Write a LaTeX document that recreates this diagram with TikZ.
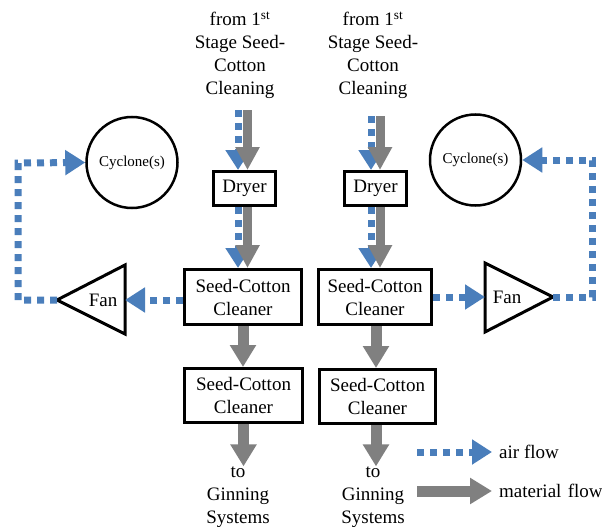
\documentclass[tikz,border=0pt]{standalone}
\usepackage{fontspec}
\setmainfont{Liberation Serif}
\usetikzlibrary{arrows.meta}
\definecolor{airblue}{RGB}{74,126,187}
\definecolor{matgray}{RGB}{128,128,128}
\begin{document}
\begin{tikzpicture}[x=1pt,y=-1pt,
 box/.style={draw=black, line width=3pt, fill=white, inner sep=0pt, align=center, font=\fontsize{19}{23}\selectfont},
 lbl/.style={align=center, inner sep=0pt, font=\fontsize{19}{23}\selectfont},
 cyc/.style={draw=black, circle, line width=2.5pt, inner sep=0pt, minimum size=91pt, font=\fontsize{15}{18}\selectfont},
 fanline/.style={draw=black, line width=3pt, line join=miter},
 air/.style={draw=airblue, line width=7pt, dash pattern=on 7pt off 6pt, -{Triangle[length=20pt,width=24pt]}},
 mat/.style={draw=matgray, line width=11pt, -{Triangle[length=22pt,width=25pt]}},
 matthin/.style={draw=matgray, line width=9pt, -{Triangle[length=23pt,width=23pt]}},
]
\useasboundingbox (0,0) rectangle (602,527);

% top labels
\node[lbl] (topL) at (240,55) {from 1\textsuperscript{st}\\Stage Seed-\\Cotton\\Cleaning};
\node[lbl] (topR) at (373,55) {from 1\textsuperscript{st}\\Stage Seed-\\Cotton\\Cleaning};

% boxes
\node[box, minimum width=62pt, minimum height=34pt] (dryL) at (244.5,188.5) {Dryer};
\node[box, minimum width=62pt, minimum height=34pt] (dryR) at (375.5,188.5) {Dryer};
\node[box, minimum width=117pt, minimum height=55pt] (cleanL1) at (243,297) {Seed-Cotton\\Cleaner};
\node[box, minimum width=118pt, minimum height=54pt] (cleanL2) at (243.5,395.5) {Seed-Cotton\\Cleaner};
\node[box, minimum width=113pt, minimum height=55pt] (cleanR1) at (375,297) {Seed-Cotton\\Cleaner};
\node[box, minimum width=116pt, minimum height=54pt] (cleanR2) at (377.5,396.5) {Seed-Cotton\\Cleaner};

% bottom labels
\node[lbl] (botL) at (238,497) {to\\Ginning\\Systems};
\node[lbl] (botR) at (373,497) {to\\Ginning\\Systems};

% cyclones
\node[cyc] (cycL) at (132,162.5) {Cyclone(s)};
\node[cyc] (cycR) at (475.5,160) {Cyclone(s)};

% fans
\coordinate (fanLtip) at (57,300);
\coordinate (fanLtop) at (125,265);
\coordinate (fanLbot) at (125,334);
\coordinate (fanLback) at (125,300);
\draw[fanline] (fanLtip) -- (fanLtop) -- (fanLbot) -- cycle;
\node[lbl] (fanL) at (103,300) {Fan};
\coordinate (fanRtip) at (553,297);
\coordinate (fanRtop) at (485,263);
\coordinate (fanRbot) at (485,332);
\coordinate (fanRback) at (485,297);
\draw[fanline] (fanRtip) -- (fanRtop) -- (fanRbot) -- cycle;
\node[lbl] (fanR) at (507,297) {Fan};

% air flow circuits
\coordinate (cornerL) at (18,163);
\coordinate (cornerR) at (592,160);
\draw[air] (cleanL1.west |- fanLtip) -- (fanLback);
\draw[air] (fanLtip) -| (cornerL) -- (cycL.west);
\draw[air] (cleanR1.east |- fanRtip) -- (fanRback);
\draw[air] (fanRtip) -| (cornerR) -- (cycR.east);

% combined flows into dryers and cleaners
\coordinate (inLb) at (238,110);
\coordinate (inLg) at (247.5,110);
\coordinate (inRb) at (371,116);
\coordinate (inRg) at (380,116);
\draw[air] (inLb) -- (inLb |- dryL.north);
\draw[matthin] (inLg) -- (inLg |- dryL.north);
\draw[air] (dryL.south -| inLb) -- (cleanL1.north -| inLb);
\draw[matthin] (dryL.south -| inLg) -- (cleanL1.north -| inLg);
\draw[air] (inRb) -- (inRb |- dryR.north);
\draw[matthin] (inRg) -- (inRg |- dryR.north);
\draw[air] (dryR.south -| inRb) -- (cleanR1.north -| inRb);
\draw[matthin] (dryR.south -| inRg) -- (cleanR1.north -| inRg);

% material flows
\draw[mat] (cleanL1.south) -- (cleanL1.south |- cleanL2.north);
\draw[mat] (cleanL2.south) -- (cleanL2.south |- botL.north);
\draw[mat] ([xshift=1pt]cleanR1.south) -- ([xshift=1pt]cleanR1.south |- cleanR2.north);
\draw[mat] ([xshift=-1.5pt]cleanR2.south) -- ([xshift=-1.5pt]cleanR2.south |- botR.north);

% legend
\node[lbl, anchor=west] (airtxt) at (499,452) {air flow};
\node[lbl, anchor=west] (mattxt) at (499,491) {material\,\,flow};
\coordinate (airst) at (417,452);
\coordinate (matst) at (417,491);
\draw[air] (airst) -- ([xshift=-7pt]airtxt.west);
\draw[mat] (matst) -- ([xshift=-7pt]mattxt.west);
\end{tikzpicture}
\end{document}
